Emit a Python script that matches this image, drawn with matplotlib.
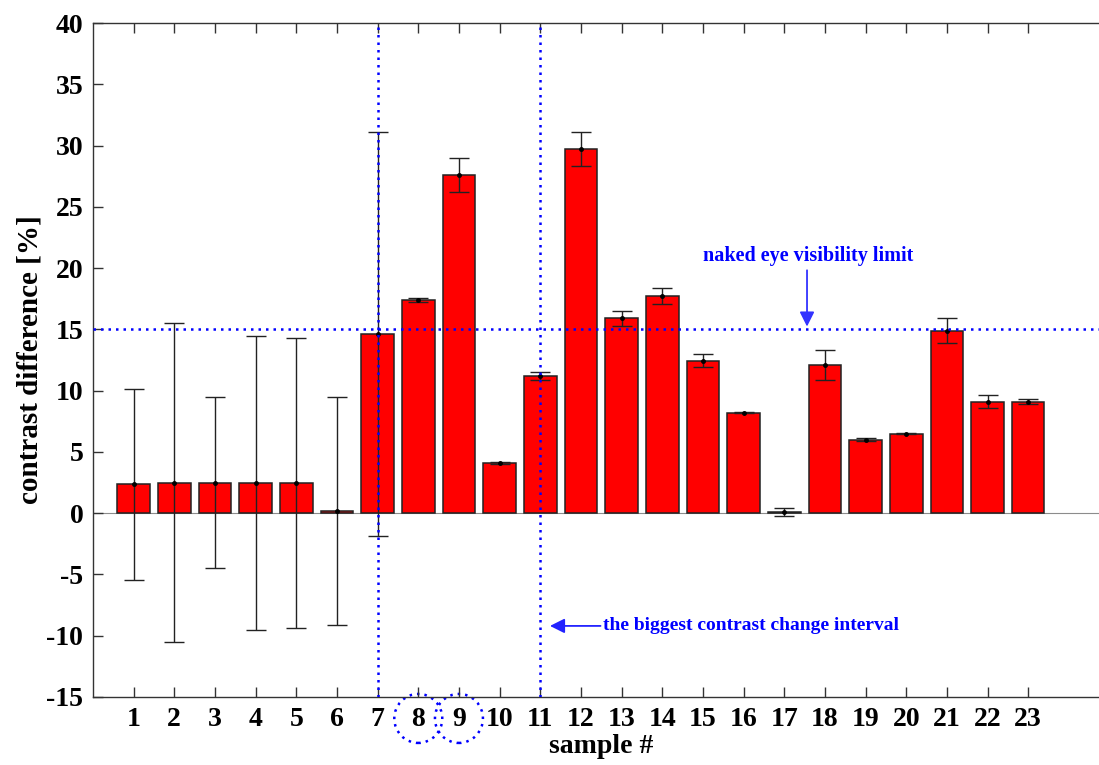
import numpy as np
import matplotlib.pyplot as plt
from matplotlib.patches import Ellipse

# ---------- data
samples = list(range(1, 24))
contrast = [2.35, 2.5, 2.5, 2.5, 2.45, 0.2, 14.6, 17.4, 27.6, 4.1, 11.2, 29.7,
            15.9, 17.7, 12.45, 8.2, 0.1, 12.1, 6.0, 6.5, 14.9, 9.1, 9.1]
contrast_err = [7.8, 13.05, 6.95, 12.0, 11.85, 9.3, 16.5, 0.15, 1.4, 0.1, 0.35, 1.4,
                0.6, 0.65, 0.55, 0.05, 0.3, 1.2, 0.1, 0.05, 1.0, 0.55, 0.2]
visibility_limit = 15
interval = [7, 11]
marked = [8, 9]

plt.rcParams['font.family'] = ['Liberation Serif', 'DejaVu Serif']
plt.rcParams['font.weight'] = 'bold'
plt.rcParams['axes.unicode_minus'] = False

fig = plt.figure(figsize=(10.99, 7.65), dpi=100)
ax = fig.add_axes([0.0846, 0.0889, 0.925, 0.881])

# bars with error bars
ax.bar(samples, contrast, width=0.8, color='#ff0000', edgecolor='#222222', linewidth=1.1, zorder=2)
ax.errorbar(samples, contrast, yerr=contrast_err, fmt='.', color='black', ecolor='#222222',
            elinewidth=1.0, capsize=7.2, capthick=1.0, markersize=5, zorder=3)
ax.axhline(0, color='0.55', lw=0.8, zorder=1)

# visibility limit and interval markers
ax.axhline(visibility_limit, color='#0000ff', ls=(0, (1, 2)), lw=1.8, zorder=4)
for x in interval:
    ax.axvline(x, color='#0000ff', ls=(0, (1, 2)), lw=1.8, zorder=4)

ax.annotate('', xy=(17.56, visibility_limit), xytext=(17.56, 20.05),
            arrowprops=dict(arrowstyle='-|>', color='#3333ff', lw=1.3, mutation_scale=22))
ax.text(15.0, 21.0, 'naked eye visibility limit', color='#0000ff', fontsize=14.5,
        fontweight='bold', ha='left', va='center')

ax.annotate('', xy=(11.17, -9.2), xytext=(12.55, -9.2),
            arrowprops=dict(arrowstyle='-|>', color='#2222ff', lw=1.3, mutation_scale=22))
ax.text(12.55, -9.2, 'the biggest contrast change interval', color='#0000ff', fontsize=14,
        fontweight='bold', ha='left', va='center')

# dotted circles around the marked tick labels
for x in marked:
    ax.add_patch(Ellipse((x, -16.75), 1.18, 4.0, fill=False, edgecolor='#0000ff',
                         ls=(0, (1, 2)), lw=1.8, clip_on=False))

ax.set_xlim(0, 25)
ax.set_ylim(-15, 40)
ax.set_xticks(samples)
ax.set_yticks(np.arange(-15, 41, 5))
ax.tick_params(direction='in', length=7, width=1.0, color='#333333', labelsize=20,
               top=True, right=False, pad=7)
for s in ax.spines.values():
    s.set_color('#333333')
    s.set_linewidth(1.0)
ax.spines['right'].set_visible(False)

ax.set_xlabel('sample #', fontsize=20, fontweight='bold', labelpad=2)
ax.set_ylabel('contrast difference [%]', fontsize=21, fontweight='bold', labelpad=2)

fig.savefig('out.png', dpi=100)
